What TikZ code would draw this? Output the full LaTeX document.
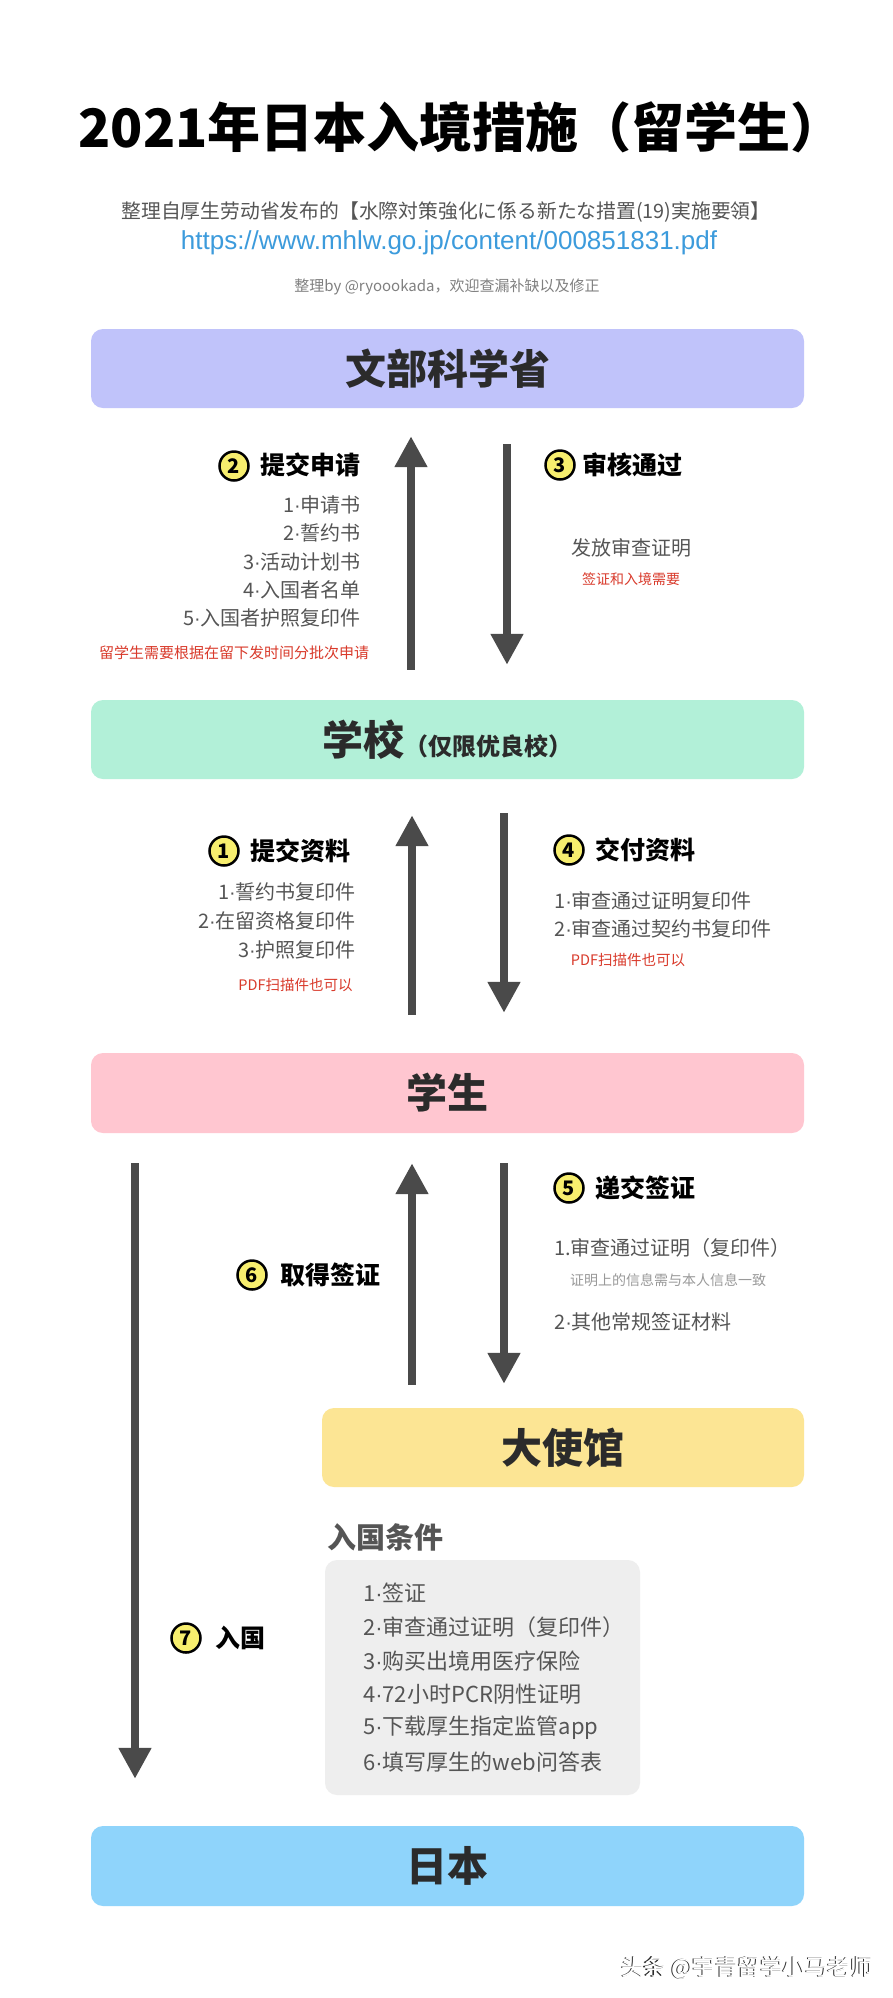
\documentclass[tikz,border=0pt]{standalone}
\usepackage{fontspec}
\setmainfont{Noto Sans CJK SC}
\newfontfamily\urlfont{Liberation Sans}
\usetikzlibrary{arrows.meta}
\definecolor{cLav}{HTML}{C0C3FA}
\definecolor{cMint}{HTML}{B2F0D8}
\definecolor{cPink}{HTML}{FFC6D0}
\definecolor{cYel}{HTML}{FCE594}
\definecolor{cGrayBox}{HTML}{EEEEEE}
\definecolor{cBlue}{HTML}{8FD4FB}
\definecolor{cDark}{HTML}{2B2B2B}
\definecolor{cList}{HTML}{555555}
\definecolor{cRed}{HTML}{D93A2B}
\definecolor{cSmall}{HTML}{999999}
\definecolor{cUrl}{HTML}{3C9BDC}
\definecolor{cArrow}{HTML}{4A4A4A}
\definecolor{cCircle}{HTML}{F7EE6E}
\newcommand{\fs}[1]{\fontsize{#1}{#1}\selectfont}
\newcommand{\md}{{\urlfont\char"00B7}}
\tikzset{
  box/.style={fill=#1, rounded corners=12pt, inner sep=0pt, text=cDark, font=\fs{41}\bfseries},
  numc/.style={circle, draw=black, line width=2.5pt, fill=cCircle, minimum size=29pt, inner sep=0pt, font=\fs{20}\bfseries},
  head/.style={anchor=west, inner sep=0pt, font=\fs{25}\bfseries, text=black},
  li/.style={inner sep=0pt, font=\fs{20}, text=cList},
  condli/.style={inner sep=0pt, anchor=west, font=\fs{22}, text=cList},
  redn/.style={inner sep=0pt, font=\fs{14.5}, text=cRed},
  arr/.style={draw=cArrow, line width=8pt, -{Triangle[width=31pt,length=31pt]}}
}
\begin{document}
\begin{tikzpicture}[x=1pt,y=-1pt]
\useasboundingbox (0,0) rectangle (892,1998);
\fill[white] (0,0) rectangle (892,1998);
% header
\node[inner sep=0pt, font=\fs{53}\bfseries] (title) at (461,127) {2021年日本入境措施（留学生）};
\node[inner sep=0pt, font=\fs{19.8}, text=cList] (sub) at (446,212) {整理自厚生劳动省发布的【水際対策強化に係る新たな措置(19)実施要領】};
\node[inner sep=0pt, font=\urlfont\fs{26}, text=cUrl] (url) at (449,243) {https://www.mhlw.go.jp/content/000851831.pdf};
\node[inner sep=0pt, font=\fs{15}, text=gray] (credit) at (447,287) {整理by @ryoookada，欢迎查漏补缺以及修正};
% boxes
\node[box=cLav, minimum width=713pt, minimum height=79pt] (mext) at (447.5,368.5) {文部科学省};
\node[box=cMint, minimum width=713pt, minimum height=79pt] (school) at (447.5,739.5) {学校\fs{24}（仅限优良校）};
\node[box=cPink, minimum width=713pt, minimum height=80pt] (student) at (447.5,1093) {学生};
\node[box=cYel, minimum width=482pt, minimum height=79pt] (embassy) at (563,1447.5) {大使馆};
\node[box=cBlue, minimum width=713pt, minimum height=80pt] (japan) at (447.5,1866) {日本};
\node[fill=cGrayBox, rounded corners=12pt, minimum width=315pt, minimum height=235pt, inner sep=0pt] (cond) at (482.5,1677.5) {};
% arrow x positions
\coordinate (xu1) at (411,0);
\coordinate (xd1) at (507,0);
\coordinate (xu) at (412,0);
\coordinate (xd) at (504,0);
\coordinate (xl) at (135,0);
% arrows set 1
\draw[arr, shorten <=30pt, shorten >=28pt] (school.north -| xu1) -- (mext.south -| xu1);
\draw[arr, shorten <=36pt, shorten >=35pt] (mext.south -| xd1) -- (school.north -| xd1);
% arrows set 2
\draw[arr, shorten <=38pt, shorten >=36pt] (student.north -| xu) -- (school.south -| xu);
\draw[arr, shorten <=34pt, shorten >=40pt] (school.south -| xd) -- (student.north -| xd);
% arrows set 3
\draw[arr, shorten <=23pt, shorten >=30pt] (embassy.north -| xu) -- (student.south -| xu);
\draw[arr, shorten <=30pt, shorten >=24pt] (student.south -| xd) -- (embassy.north -| xd);
\draw[arr, shorten <=30pt, shorten >=47pt] (student.south -| xl) -- (japan.north -| xl);
% step 2
\node[numc] (c2) at (234,466) {2};
\node[head] (h2) at (260,465) {提交申请};
\node[li, anchor=east] (l2a) at (361,505) {1\md 申请书};
\node[li, anchor=east] (l2b) at (361,533) {2\md 誓约书};
\node[li, anchor=east] (l2c) at (361,562) {3\md 活动计划书};
\node[li, anchor=east] (l2d) at (361,590) {4\md 入国者名单};
\node[li, anchor=east] (l2e) at (361,618) {5\md 入国者护照复印件};
\node[redn, font=\fs{15}] (r2) at (234,653) {留学生需要根据在留下发时间分批次申请};
% step 3
\node[numc] (c3) at (560,465) {3};
\node[head] (h3) at (582,465) {审核通过};
\node[li] (l3a) at (631,548) {发放审查证明};
\node[redn, font=\fs{14}] (r3) at (631,579) {签证和入境需要};
% step 1
\node[numc] (c1) at (224,851) {1};
\node[head] (h1) at (250,851) {提交资料};
\node[li, anchor=east] (l1a) at (356,892) {1\md 誓约书复印件};
\node[li, anchor=east] (l1b) at (356,921) {2\md 在留资格复印件};
\node[li, anchor=east] (l1c) at (356,950) {3\md 护照复印件};
\node[redn] (r1) at (295.5,985) {PDF扫描件也可以};
% step 4
\node[numc] (c4) at (569,850) {4};
\node[head] (h4) at (595,850) {交付资料};
\node[li, anchor=west] (l4a) at (554,901) {1\md 审查通过证明复印件};
\node[li, anchor=west] (l4b) at (554,929) {2\md 审查通过契约书复印件};
\node[redn] (r4) at (628,960) {PDF扫描件也可以};
% step 5
\node[numc] (c5) at (569,1188) {5};
\node[head] (h5) at (595,1188) {递交签证};
\node[li, anchor=west] (l5a) at (554,1248) {1.审查通过证明（复印件）};
\node[inner sep=0pt, font=\fs{14}, text=cSmall] (n5) at (668,1280) {证明上的信息需与本人信息一致};
\node[li, anchor=west] (l5b) at (554,1322) {2\md 其他常规签证材料};
% step 6
\node[numc] (c6) at (252,1275) {6};
\node[head] (h6) at (280,1275) {取得签证};
% step 7
\node[numc] (c7) at (186,1638) {7};
\node[head] (h7) at (215,1638) {入国};
% conditions
\node[inner sep=0pt, anchor=west, font=\fs{29}\bfseries, text=cList] (condt) at (327,1537) {入国条件};
\node[condli] (k1) at (363,1593) {1\md 签证};
\node[condli] (k2) at (363,1627) {2\md 审查通过证明（复印件）};
\node[condli] (k3) at (363,1661) {3\md 购买出境用医疗保险};
\node[condli] (k4) at (363,1694) {4\md 72小时PCR阴性证明};
\node[condli] (k5) at (363,1728) {5\md 下载厚生指定监管app};
\node[condli] (k6) at (363,1762) {6\md 填写厚生的web问答表};
% watermark
\node[inner sep=0pt, font=\fs{22.5}, text=cDark] (wms) at (746,1968) {头条 @宇青留学小马老师};
\node[inner sep=0pt, font=\fs{22.5}, text=white] (wm) at (747.2,1968) {头条 @宇青留学小马老师};
\end{tikzpicture}
\end{document}
